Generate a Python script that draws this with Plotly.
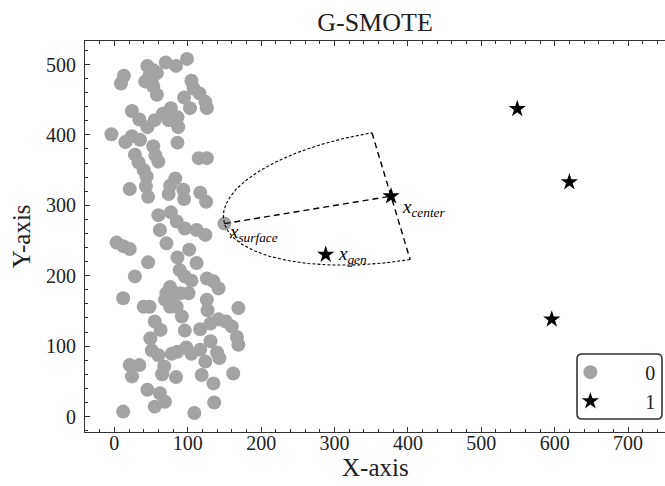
import numpy as np
import plotly.graph_objects as go

# Majority class (label 0)
x0 = [99, 45, 53, 70, 84, 58, 48, 42, 51, 53, 58, 13, 9, 105, 108, 116, 124, 126, 95, 103,
      24, 34, 45, 55, 66, 77, 86, 87, 74, -4, 15, 24, 35, 53, 56, 60, 86, 28, 33, 40,
      44, 115, 126, 21, 43, 46, 83, 76, 74, 94, 95, 117, 125, 60, 77, 85, 62, 96, 112, 124,
      3, 12, 21, 71, 102, 86, 46, 112, 28, 89, 96, 105, 126, 135, 142, 76, 71, 69, 80, 90,
      101, 76, 85, 92, 12, 40, 48, 126, 127, 169, 55, 63, 49, 96, 117, 131, 142, 152, 160, 167,
      169, 131, 51, 60, 78, 86, 98, 105, 117, 140, 143, 21, 34, 24, 68, 65, 84, 124, 119, 135,
      162, 45, 62, 69, 55, 136, 12, 109]
y0 = [508, 498, 492, 503, 498, 488, 485, 476, 478, 469, 457, 484, 473, 477, 466, 459, 447, 438, 453, 438,
      434, 422, 411, 421, 430, 438, 425, 411, 421, 401, 390, 398, 393, 384, 371, 362, 389, 372, 361, 350,
      341, 367, 367, 323, 327, 312, 338, 328, 316, 322, 309, 318, 305, 286, 290, 277, 265, 267, 265, 258,
      247, 242, 238, 246, 237, 226, 219, 218, 199, 208, 199, 193, 196, 192, 182, 184, 175, 166, 170, 175,
      175, 156, 156, 142, 168, 156, 156, 166, 151, 154, 135, 123, 111, 122, 124, 132, 138, 135, 128, 113,
      102, 107, 94, 87, 89, 92, 98, 89, 95, 91, 83, 73, 73, 57, 71, 60, 56, 78, 59, 47,
      61, 38, 33, 21, 14, 20, 7, 5]

# Minority class (label 1)
x1 = [549, 620, 596]
y1 = [437, 333, 138]

# G-SMOTE construction
x_center = (377, 313)      # selected minority sample
x_surface = (150, 274)     # nearest sample defining the radius
x_gen = (288, 230)         # generated sample
boundary_end = (351, 403)  # end of the truncation boundary

SERIF = "Liberation Serif"
GREY = "#a3a3a3"
INK = "#222222"

fig = go.Figure()

fig.add_trace(go.Scatter(
    x=x0 + [x_surface[0]], y=y0 + [x_surface[1]], mode="markers", name="0",
    marker=dict(symbol="circle", size=14, color=GREY, line=dict(width=0)),
))

# Deformed, truncated hypersphere: half ellipse spanned by the two conjugate radii
t = np.linspace(-np.pi / 2, np.pi / 2, 300)
u = np.subtract(x_surface, x_center)
v = np.subtract(boundary_end, x_center)
arc_x = x_center[0] + np.cos(t) * u[0] + np.sin(t) * v[0]
arc_y = x_center[1] + np.cos(t) * u[1] + np.sin(t) * v[1]
fig.add_trace(go.Scatter(x=arc_x, y=arc_y, mode="lines", showlegend=False, hoverinfo="skip",
                         line=dict(color="black", width=1.1, dash="3px,2px")))

# Truncation boundary through the center
far_end = 2 * np.array(x_center) - np.array(boundary_end)
fig.add_trace(go.Scatter(x=[boundary_end[0], far_end[0]], y=[boundary_end[1], far_end[1]],
                         mode="lines", showlegend=False, hoverinfo="skip",
                         line=dict(color="black", width=1.4, dash="6px,4px")))

# Radius from surface to center
fig.add_trace(go.Scatter(x=[x_surface[0], x_center[0]], y=[x_surface[1], x_center[1]],
                         mode="lines", showlegend=False, hoverinfo="skip",
                         line=dict(color="black", width=1.4, dash="6px,4px")))

fig.add_trace(go.Scatter(
    x=x1 + [x_center[0], x_gen[0]], y=y1 + [x_center[1], x_gen[1]], mode="markers", name="1",
    marker=dict(symbol="star", size=13, color="black", line=dict(width=0)),
))

label_font = dict(family=SERIF, size=19, color="black")
for (px, py), sub in [((x_center[0] + 12, x_center[1] - 17), "center"),
                      ((x_surface[0] + 3, x_surface[1] - 13), "surface"),
                      ((x_gen[0] + 14, x_gen[1] - 1), "gen")]:
    fig.add_annotation(x=px, y=py, xref="x", yref="y", showarrow=False,
                       xanchor="left", yanchor="middle", font=label_font,
                       text=f"<i>x</i><sub><i>{sub}</i></sub>")

# Axis titles
fig.add_annotation(text="X-axis", xref="paper", yref="paper", x=0.5, y=-0.09,
                   xanchor="center", yanchor="middle", showarrow=False,
                   font=dict(family=SERIF, size=25, color=INK))
fig.add_annotation(text="Y-axis", xref="paper", yref="paper", x=-0.109, y=0.5,
                   xanchor="center", yanchor="middle", showarrow=False, textangle=-90,
                   font=dict(family=SERIF, size=25, color=INK))

# Rounded legend frame
lx0, lx1, ly0, ly1 = 0.8483, 0.9948, 0.0332, 0.1995
rx, ry = 5 / 580, 5 / 391
path = (f"M {lx0+rx},{ly0} L {lx1-rx},{ly0} Q {lx1},{ly0} {lx1},{ly0+ry} "
        f"L {lx1},{ly1-ry} Q {lx1},{ly1} {lx1-rx},{ly1} L {lx0+rx},{ly1} "
        f"Q {lx0},{ly1} {lx0},{ly1-ry} L {lx0},{ly0+ry} Q {lx0},{ly0} {lx0+rx},{ly0} Z")
fig.add_shape(type="path", path=path, xref="paper", yref="paper",
              line=dict(color="#333333", width=1.6), fillcolor="white", layer="above")

axis_common = dict(
    showline=True, linecolor="#333333", linewidth=1.2,
    ticks="inside", ticklen=5, tickwidth=1, tickcolor="#333333",
    showgrid=False, zeroline=False,
    tickfont=dict(family=SERIF, size=20, color=INK),
)

fig.update_layout(
    width=665, height=486,
    margin=dict(l=85, r=0, t=41, b=54),
    plot_bgcolor="white", paper_bgcolor="white",
    title=dict(text="G-SMOTE", x=0.5, xref="paper", xanchor="center",
               y=1 - 22 / 486, yanchor="middle",
               font=dict(family=SERIF, size=26, color=INK)),
    xaxis=dict(range=[-40, 750.3], dtick=100, tick0=0, mirror="ticks",
               minor=dict(ticks="inside", dtick=20, ticklen=3, tickcolor="#333333"),
               ticklabelstandoff=-7, **axis_common),
    yaxis=dict(range=[-22, 533.4], dtick=100, tick0=0, mirror=False,
               minor=dict(ticks="inside", dtick=20, ticklen=3, tickcolor="#333333"),
               ticklabelstandoff=4, **axis_common),
    showlegend=True,
    legend=dict(x=0.992, xanchor="right", y=0.116, yanchor="middle",
                bgcolor="rgba(0,0,0,0)", borderwidth=0, itemwidth=100,
                font=dict(family=SERIF, size=20, color=INK), tracegroupgap=0),
)

fig.write_html("out.html")
